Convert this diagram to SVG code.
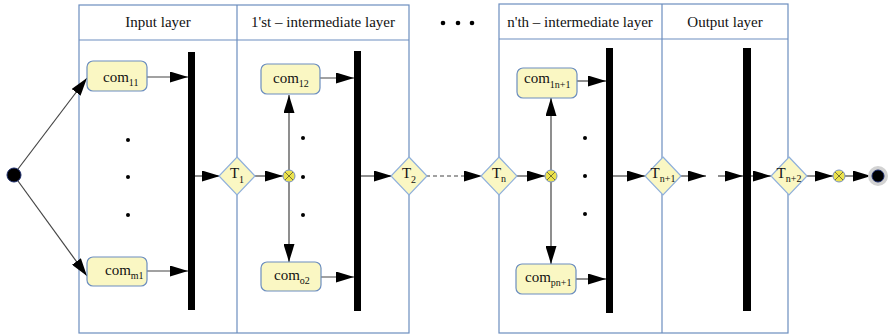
<svg xmlns="http://www.w3.org/2000/svg" width="889" height="335" viewBox="0 0 889 335">
  <style>
    .lane { fill: none; stroke: #6c8ebf; stroke-width: 1.2; }
    .hdr { font-family: "Liberation Serif", "Times New Roman", serif; font-size: 15px; fill: #111; text-anchor: middle; }
    .box { fill: #faf7c3; stroke: #6c8ebf; stroke-width: 1.2; }
    .dia { fill: #faf7c3; stroke: #8fb0dc; stroke-width: 1.2; }
    .lbl { font-family: "Liberation Serif", "Times New Roman", serif; font-size: 15px; fill: #111; }
    .sub { font-size: 10px; }
    .bar { fill: #000; }
    .dot { fill: #000; }
    .merge { fill: #ece24e; stroke: #7a93c0; stroke-width: 1; }
    .x { stroke: #6a6a30; stroke-width: 0.9; }
    .edge { fill: none; stroke: #444; stroke-width: 1.2; marker-end: url(#arrow); }
    .dash { stroke-dasharray: 4 3; }
  </style>
  <defs>
    <marker id="arrow" markerUnits="userSpaceOnUse" viewBox="0 0 18 11" markerWidth="18" markerHeight="11" refX="18" refY="5.5" orient="auto">
      <path d="M0,0 L18,5.5 L0,11 z" fill="#000"/>
    </marker>
  </defs>

  <!-- swimlane pools -->
  <g id="lanes">
    <rect class="lane" x="79" y="5" width="330" height="328"/>
    <line class="lane" x1="79" y1="40" x2="409" y2="40"/>
    <line class="lane" x1="237" y1="5" x2="237" y2="333"/>
    <text class="hdr" x="158" y="27">Input layer</text>
    <text class="hdr" x="323" y="27">1'st – intermediate layer</text>

    <rect class="lane" x="499" y="4" width="289" height="329"/>
    <line class="lane" x1="499" y1="39" x2="788" y2="39"/>
    <line class="lane" x1="662" y1="4" x2="662" y2="333"/>
    <text class="hdr" x="580" y="27">n'th – intermediate layer</text>
    <text class="hdr" x="725" y="27">Output layer</text>

    <circle class="dot" cx="443" cy="23" r="2.3"/>
    <circle class="dot" cx="458" cy="23" r="2.3"/>
    <circle class="dot" cx="472" cy="23" r="2.3"/>
  </g>

  <!-- ellipsis dots inside lanes -->
  <g id="ellipses">
    <circle class="dot" cx="128" cy="140" r="2"/>
    <circle class="dot" cx="128" cy="177" r="2"/>
    <circle class="dot" cx="128" cy="215" r="2"/>
    <circle class="dot" cx="303" cy="138" r="2"/>
    <circle class="dot" cx="303" cy="177" r="2"/>
    <circle class="dot" cx="303" cy="215" r="2"/>
    <circle class="dot" cx="585" cy="138" r="2"/>
    <circle class="dot" cx="585" cy="176" r="2"/>
    <circle class="dot" cx="585" cy="214" r="2"/>
  </g>

  <!-- connectors -->
  <g id="connectors">
    <line class="edge" x1="18" y1="169" x2="87" y2="78"/>
    <line class="edge" x1="18" y1="181" x2="87" y2="276"/>
    <line class="edge" x1="147" y1="77" x2="188" y2="77"/>
    <line class="edge" x1="147" y1="271" x2="188" y2="271"/>
    <line class="edge" x1="195" y1="176" x2="220" y2="176"/>
    <line class="edge" x1="255" y1="176" x2="283" y2="176"/>
    <line class="edge" x1="289" y1="170" x2="289" y2="95"/>
    <line class="edge" x1="289" y1="182" x2="289" y2="262"/>
    <line class="edge" x1="320" y1="78" x2="354" y2="78"/>
    <line class="edge" x1="321" y1="277" x2="354" y2="277"/>
    <line class="edge" x1="361" y1="176" x2="392" y2="176"/>
    <line class="edge dash" x1="426" y1="176" x2="482" y2="176"/>
    <line class="edge" x1="517" y1="176" x2="545" y2="176"/>
    <line class="edge" x1="551" y1="170" x2="551" y2="98"/>
    <line class="edge" x1="551" y1="182" x2="551" y2="264"/>
    <line class="edge" x1="577" y1="81" x2="606" y2="81"/>
    <line class="edge" x1="576" y1="279" x2="606" y2="279"/>
    <line class="edge" x1="613" y1="176" x2="645" y2="176"/>
    <line class="edge" x1="681" y1="176" x2="706" y2="176"/>
    <line class="edge" x1="718" y1="176" x2="743" y2="176"/>
    <line class="edge" x1="751" y1="176" x2="771" y2="176"/>
    <line class="edge" x1="806" y1="176" x2="833" y2="176"/>
    <line class="edge" x1="845" y1="176" x2="871" y2="176"/>
  </g>

  <!-- start node -->
  <g id="start">
    <circle cx="14" cy="175" r="7" fill="#000" stroke="#1a2a6a" stroke-width="1"/>
  </g>

  <!-- input layer -->
  <g id="com11">
    <rect class="box" x="87" y="61" width="60" height="30" rx="6"/>
    <text class="lbl" x="103" y="82">com<tspan class="sub" dy="4">11</tspan></text>
  </g>
  <g id="comm1">
    <rect class="box" x="87" y="257" width="60" height="29" rx="6"/>
    <text class="lbl" x="105" y="275">com<tspan class="sub" dy="4">m1</tspan></text>
  </g>
  <g id="bar1"><rect class="bar" x="188" y="52" width="7" height="258"/></g>

  <!-- first intermediate layer -->
  <g id="T1">
    <polygon class="dia" points="237,157 255,176 237,195 219,176"/>
    <text class="lbl" x="237" y="178" text-anchor="middle">T<tspan class="sub" dy="5">1</tspan></text>
  </g>
  <g id="merge1">
    <circle class="merge" cx="289" cy="176" r="6"/>
    <line class="x" x1="285" y1="172" x2="293" y2="180"/>
    <line class="x" x1="293" y1="172" x2="285" y2="180"/>
  </g>
  <g id="com12">
    <rect class="box" x="261" y="64" width="59" height="30" rx="6"/>
    <text class="lbl" x="273" y="83">com<tspan class="sub" dy="4">12</tspan></text>
  </g>
  <g id="como2">
    <rect class="box" x="261" y="262" width="60" height="29" rx="6"/>
    <text class="lbl" x="274" y="280">com<tspan class="sub" dy="4">o2</tspan></text>
  </g>
  <g id="bar2"><rect class="bar" x="354" y="51" width="7" height="260"/></g>

  <g id="T2">
    <polygon class="dia" points="409,157 427,176 409,195 391,176"/>
    <text class="lbl" x="409" y="178" text-anchor="middle">T<tspan class="sub" dy="5">2</tspan></text>
  </g>

  <!-- n'th intermediate layer -->
  <g id="Tn">
    <polygon class="dia" points="499,157 517,176 499,195 481,176"/>
    <text class="lbl" x="499" y="178" text-anchor="middle">T<tspan class="sub" font-size="9" dy="4">n</tspan></text>
  </g>
  <g id="merge2">
    <circle class="merge" cx="551" cy="176" r="6"/>
    <line class="x" x1="547" y1="172" x2="555" y2="180"/>
    <line class="x" x1="555" y1="172" x2="547" y2="180"/>
  </g>
  <g id="com1n1">
    <rect class="box" x="517" y="68" width="60" height="30" rx="6"/>
    <text class="lbl" x="524" y="83">com<tspan class="sub" dy="5">1n+1</tspan></text>
  </g>
  <g id="compn1">
    <rect class="box" x="516" y="264" width="60" height="30" rx="6"/>
    <text class="lbl" x="525" y="282">com<tspan class="sub" dy="4">pn+1</tspan></text>
  </g>
  <g id="bar3"><rect class="bar" x="606" y="48" width="7" height="265"/></g>

  <g id="Tn1">
    <polygon class="dia" points="663,157 681,176 663,195 645,176"/>
    <text class="lbl" x="663" y="178" text-anchor="middle">T<tspan class="sub" font-size="9" dy="4">n+1</tspan></text>
  </g>

  <!-- output layer -->
  <g id="bar4"><rect class="bar" x="743" y="48" width="8" height="263"/></g>
  <g id="Tn2">
    <polygon class="dia" points="789,157 807,176 789,195 771,176"/>
    <text class="lbl" x="789" y="178" text-anchor="middle">T<tspan class="sub" font-size="9" dy="4">n+2</tspan></text>
  </g>
  <g id="merge3">
    <circle class="merge" cx="839" cy="176" r="6"/>
    <line class="x" x1="835" y1="172" x2="843" y2="180"/>
    <line class="x" x1="843" y1="172" x2="835" y2="180"/>
  </g>

  <!-- end node -->
  <g id="end">
    <circle cx="878" cy="176" r="10" fill="#d2d2d2"/>
    <circle cx="878" cy="176" r="6" fill="#000" stroke="#1a2a6a" stroke-width="1"/>
  </g>
</svg>
